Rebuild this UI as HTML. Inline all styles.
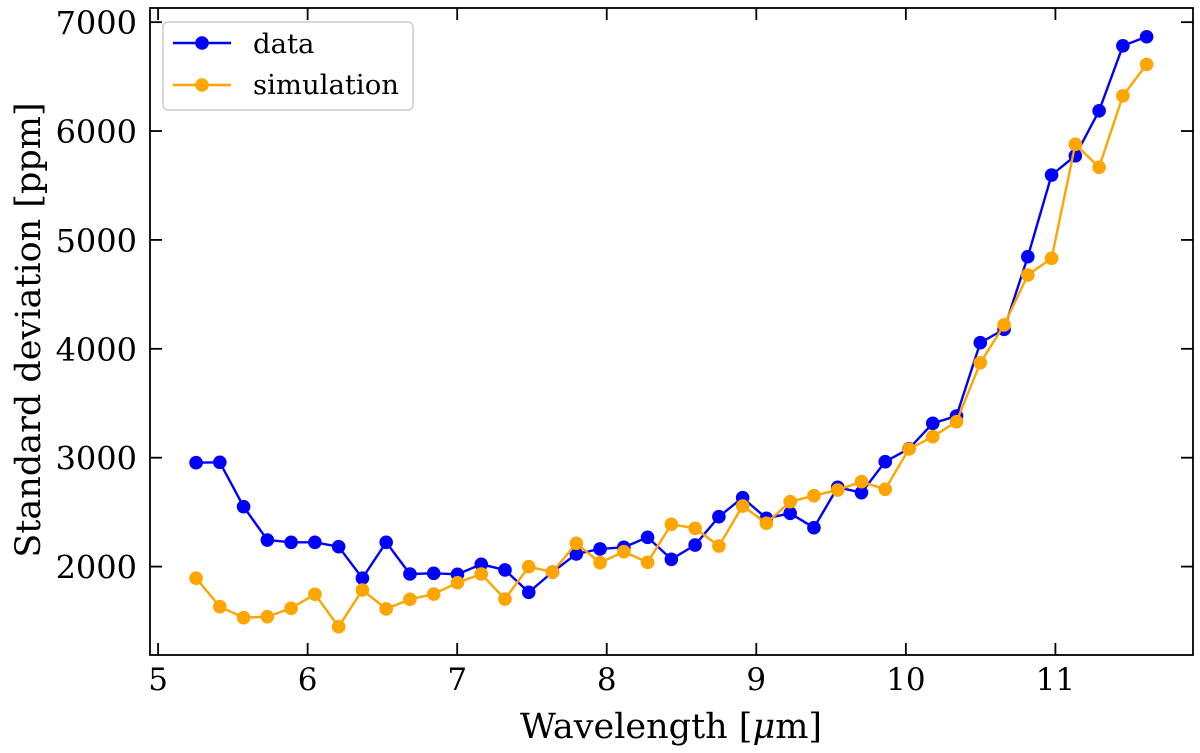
<!DOCTYPE html>
<html><head><meta charset="utf-8"><style>
html,body{margin:0;padding:0;background:#fff;}
svg text{font-family:"DejaVu Serif","Liberation Serif",serif;fill:#000;}
</style></head><body>
<svg id="chart" width="1200" height="753" xmlns="http://www.w3.org/2000/svg" style="position:absolute;left:0;top:0">
<g id="series"></g>
<g id="axes"></g>
</svg>
<script>
const dataValues = [2954,2958,2550,2244,2223,2223,2183,1893,2223,1932,1938,1929,2021,1969,1764,1950,2116,2162,2177,2269,2067,2198,2458,2633,2443,2489,2357,2728,2679,2963,3083,3316,3383,4056,4179,4846,5596,5773,6186,6783,6866];
const simValues = [1893,1632,1531,1540,1617,1746,1448,1785,1611,1700,1748,1852,1932,1702,1999,1950,2214,2036,2137,2039,2388,2352,2189,2556,2398,2596,2651,2703,2780,2710,3080,3193,3331,3872,4219,4678,4831,5878,5667,6324,6612];
const wlStart = 5.254, wlStep = 0.1589;
const xTicks = [5,6,7,8,9,10,11];
const yTicks = [2000,3000,4000,5000,6000,7000];

const L=150,R=1193,T=8,B=655;
const xMin=4.946,xMax=11.92,yMin=1188,yMax=7130;
const xs=v=>L+(v-xMin)/(xMax-xMin)*(R-L);
const ys=v=>B-(v-yMin)/(yMax-yMin)*(B-T);
const NS="http://www.w3.org/2000/svg";
function mk(tag,attrs,parent){const e=document.createElementNS(NS,tag);for(const k in attrs)e.setAttribute(k,attrs[k]);parent.appendChild(e);return e;}
const gS=document.getElementById('series'),gA=document.getElementById('axes');

function drawSeries(vals,color,name){
  const g=mk('g',{},gS);
  
  
  const pts=vals.map((v,i)=>xs(wlStart+i*wlStep).toFixed(1)+','+ys(v).toFixed(1)).join(' ');
  const pl=mk('polyline',{points:pts,fill:'none',stroke:color,'stroke-width':2.4},g);
  
  
  vals.forEach((v,i)=>{
    const c=mk('circle',{cx:xs(wlStart+i*wlStep),cy:ys(v),r:6.8,fill:color},g);
    
    
  });
}
drawSeries(dataValues,'#0000ff','data');
drawSeries(simValues,'#ffa500','simulation');

const frame=mk('rect',{x:L,y:T,width:R-L,height:B-T,fill:'none',stroke:'#000','stroke-width':1.8},gA);


xTicks.forEach(t=>{
  const x=xs(t);
  mk('line',{x1:x,x2:x,y1:B,y2:B-12,stroke:'#000','stroke-width':1.8},gA);
  mk('line',{x1:x,x2:x,y1:T,y2:T+12,stroke:'#000','stroke-width':1.8},gA);
  const tx=mk('text',{x:x,y:B+35,'text-anchor':'middle','font-size':31},gA);
  tx.textContent=t;
  
  
});
yTicks.forEach(t=>{
  const y=ys(t);
  mk('line',{x1:L,x2:L+12,y1:y,y2:y,stroke:'#000','stroke-width':1.8},gA);
  mk('line',{x1:R,x2:R-12,y1:y,y2:y,stroke:'#000','stroke-width':1.8},gA);
  const tx=mk('text',{x:L-13,y:y+12,'text-anchor':'end','font-size':32},gA);
  tx.textContent=t;
  
  
});
</script>
<svg style="position:absolute;left:0;top:0" width="1200" height="753" xmlns="http://www.w3.org/2000/svg">
<text x="671" y="738" text-anchor="middle" font-size="35">Wavelength [<tspan font-style="italic">μ</tspan>m]</text>
<text transform="translate(40,330) rotate(-90)" text-anchor="middle" font-size="35">Standard deviation [ppm]</text>
<g>
<rect x="163" y="22" width="250" height="88" rx="5" fill="#fff" stroke="#ccc" stroke-width="1.5"/>
<g>
<line x1="173" x2="231" y1="43" y2="43" stroke="#0000ff" stroke-width="2.4"/>
<circle cx="202" cy="43" r="6.8" fill="#0000ff"/>
<text x="253" y="53" font-size="27.5">data</text>
</g>
<g>
<line x1="173" x2="231" y1="85" y2="85" stroke="#ffa500" stroke-width="2.4"/>
<circle cx="202" cy="85" r="6.8" fill="#ffa500"/>
<text x="253" y="94" font-size="27.5">simulation</text>
</g>
</g>
</svg>
</body></html>
